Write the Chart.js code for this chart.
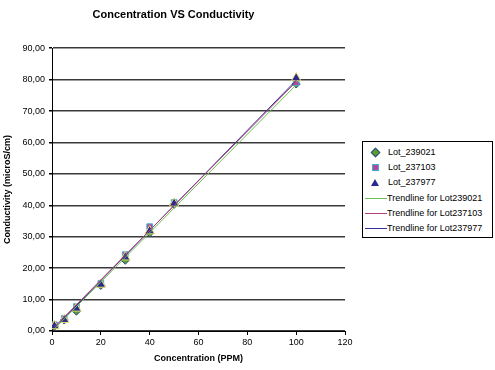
<!DOCTYPE html>
<html>
<head>
<meta charset="utf-8">
<script src="https://cdn.jsdelivr.net/npm/chart.js@4"></script>
<style>
  body { margin: 0; background: #fff; }
  #wrap { position: relative; width: 495px; height: 370px; }
  #legend { position: absolute; left: 362px; top: 141px; width: 129px; height: 95px; border: 1px solid #000; background: #fff;
            font: 9px "Liberation Sans", Arial, sans-serif; color: #000; }
  .row { position: absolute; left: 0; height: 15px; line-height: 15px; white-space: nowrap; }
  .row span.t { position: absolute; left: 25px; }
  .sym { position: absolute; }
</style>
</head>
<body>
<div id="wrap">
  <canvas id="chart" width="495" height="370"></canvas>
  <div id="legend"></div>
</div>
<script>
// data
const concentration = [1, 5, 10, 20, 30, 40, 50, 100];
const lot239021 = [1.5, 3.5, 6.3, 14.5, 22.5, 31.2, 40.3, 78.6];
const lot237103 = [2.0, 4.0, 7.8, 15.2, 24.3, 33.2, 40.9, 79.0];
const lot237977 = [1.6, 3.6, 7.2, 14.8, 23.5, 31.8, 40.6, 80.5];

// trendline ends (x = 1 and x = 100)
const trendX = [1, 100];
const trend239021 = [0.7, 78.3];
const trend237103 = [1.3, 79.3];
const trend237977 = [0.9, 79.8];

const yTicks = [0, 10, 20, 30, 40, 50, 60, 70, 80, 90];
const xTicks = [0, 20, 40, 60, 80, 100, 120];

const pts = (xs, ys) => xs.map((x, i) => ({ x: x, y: ys[i] }));
const fmt = (v) => v.toFixed(2).replace('.', ',');

// lower order = drawn on top
const series = [
  { label: 'Lot_239021', data: pts(concentration, lot239021), pointStyle: 'rectRot', pointRadius: 4, order: 4,
    backgroundColor: '#5a9e2e', borderColor: '#2a4a8a', showLine: false },
  { label: 'Lot_237103', data: pts(concentration, lot237103), pointStyle: 'rect', pointRadius: 4, order: 3,
    backgroundColor: '#b04a9a', borderColor: '#40b0d8', showLine: false },
  { label: 'Lot_237977', data: pts(concentration, lot237977), pointStyle: 'triangle', pointRadius: 5.5, order: 2,
    backgroundColor: '#2a2a8e', borderColor: '#e8e070', showLine: false },
  { label: 'Trendline for Lot239021', data: pts(trendX, trend239021), borderColor: '#6ac04a', pointRadius: 0, showLine: true, order: 1 },
  { label: 'Trendline for Lot237103', data: pts(trendX, trend237103), borderColor: '#b0407e', pointRadius: 0, showLine: true, order: 1 },
  { label: 'Trendline for Lot237977', data: pts(trendX, trend237977), borderColor: '#30309a', pointRadius: 0, showLine: true, order: 1 }
];

const fontFam = '"Liberation Sans", Arial, sans-serif';

new Chart(document.getElementById('chart'), {
  type: 'scatter',
  data: { datasets: series.map(s => Object.assign({ borderWidth: 1 }, s)) },
  options: {
    responsive: false,
    animation: false,
    layout: { padding: { left: 2, right: 150, top: 0, bottom: 6 } },
    plugins: {
      legend: { display: false },
      tooltip: { enabled: false },
      title: { display: true, text: 'Concentration VS Conductivity', color: '#000',
               font: { family: fontFam, size: 11, weight: 'bold' }, padding: { top: 8, bottom: 27 } }
    },
    scales: {
      x: {
        type: 'linear', min: 0, max: 120,
        afterBuildTicks: (s) => { s.ticks = xTicks.map(v => ({ value: v })); },
        afterFit: (s) => { s.height = 33; },
        ticks: { color: '#000', font: { family: fontFam, size: 9 }, padding: 2, maxRotation: 0 },
        grid: { drawOnChartArea: false, drawTicks: true, tickLength: 4, color: '#000' },
        border: { color: '#000', width: 1 },
        title: { display: true, text: 'Concentration (PPM)', color: '#000',
                 font: { family: fontFam, size: 9, weight: 'bold' }, padding: { top: 2, bottom: 0 } }
      },
      y: {
        type: 'linear', min: 0, max: 90,
        afterBuildTicks: (s) => { s.ticks = yTicks.map(v => ({ value: v })); },
        afterFit: (s) => { s.width = 50; },
        ticks: { color: '#000', font: { family: fontFam, size: 9 }, padding: 4, callback: (v) => fmt(v) },
        grid: { color: '#3a3a3a', lineWidth: 1.5, tickLength: 3, tickColor: '#000' },
        border: { color: '#000', width: 1 },
        title: { display: true, text: 'Conductivity (microS/cm)', color: '#000',
                 font: { family: fontFam, size: 9, weight: 'bold' }, padding: { top: 0, bottom: 4 } }
      }
    }
  }
});

// legend box at the right
const legend = document.getElementById('legend');
series.forEach((s, i) => {
  const row = document.createElement('div');
  row.className = 'row';
  row.style.top = (3 + i * 15.2) + 'px';
  row.style.width = '129px';
  let sym = '';
  if (i < 3) {
    if (s.pointStyle === 'rectRot') {
      sym = `<div class="sym" style="left:9px;top:4px;width:5px;height:5px;background:${s.backgroundColor};border:1px solid ${s.borderColor};transform:rotate(45deg)"></div>`;
    } else if (s.pointStyle === 'rect') {
      sym = `<div class="sym" style="left:9px;top:4px;width:5px;height:5px;background:${s.backgroundColor};border:1px solid ${s.borderColor}"></div>`;
    } else {
      sym = `<div class="sym" style="left:8px;top:4px;width:0;height:0;border-left:4px solid transparent;border-right:4px solid transparent;border-bottom:7px solid ${s.backgroundColor}"></div>`;
    }
    row.innerHTML = sym + `<span class="t" style="left:25px">${s.label}</span>`;
  } else {
    sym = `<div class="sym" style="left:2px;top:7px;width:22px;height:1px;background:${s.borderColor}"></div>`;
    row.innerHTML = sym + `<span class="t" style="left:24px">${s.label}</span>`;
  }
  legend.appendChild(row);
});
</script>
</body>
</html>
